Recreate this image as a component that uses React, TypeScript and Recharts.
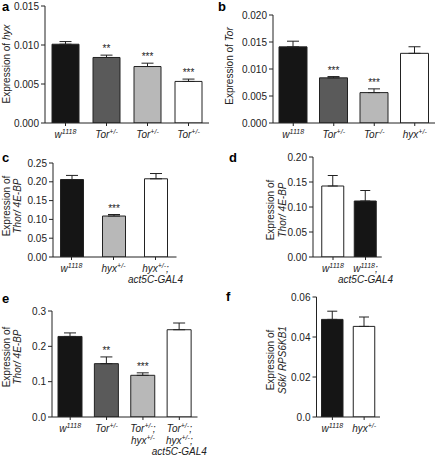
import React from 'react';
import { BarChart, Bar, XAxis, YAxis, ErrorBar, LabelList, Cell } from 'recharts';

const FONT = '"Liberation Sans", Arial, Helvetica, sans-serif';
const INK = '#222222';
const BLACK = '#151515';
const DARK = '#5a5a5a';
const LIGHT = '#b8b8b8';
const WHITE = '#ffffff';

// ---------- panel a ----------
const aCategories = ['w^{1118}', 'Tor^{+/-}', 'Tor^{+/-}', 'Tor^{+/-}'];
const aValues = [0.0101, 0.0084, 0.00724, 0.00533];
const aErrors = [0.00034, 0.0003, 0.00043, 0.0003];
const aStars = ['', '**', '***', '***'];
const aFills = [BLACK, DARK, LIGHT, WHITE];
const aTicks = [0, 0.005, 0.01, 0.015];
const aTickLabels = ['0.000', '0.005', '0.010', '0.015'];
const aYLabel = ['Expression of _hyx_'];

// ---------- panel b ----------
const bCategories = ['w^{1118}', 'Tor^{+/-}', 'Tor^{-/-}', 'hyx^{+/-}'];
const bValues = [0.0141, 0.00836, 0.00563, 0.0129];
const bErrors = [0.00105, 0.00024, 0.00069, 0.00122];
const bStars = ['', '***', '***', ''];
const bFills = [BLACK, DARK, LIGHT, WHITE];
const bTicks = [0, 0.005, 0.01, 0.015, 0.02];
const bTickLabels = ['0.000', '0.005', '0.010', '0.015', '0.020'];
const bYLabel = ['Expression of _Tor_'];

// ---------- panel c ----------
const cCategories = ['w^{1118}', 'hyx^{+/-}', 'hyx^{+/-};\nact5C-GAL4'];
const cValues = [0.206, 0.109, 0.208];
const cErrors = [0.011, 0.004, 0.014];
const cStars = ['', '***', ''];
const cFills = [BLACK, LIGHT, WHITE];
const cTicks = [0, 0.05, 0.1, 0.15, 0.2, 0.25];
const cTickLabels = ['0.00', '0.05', '0.10', '0.15', '0.20', '0.25'];
const cYLabel = ['Expression of', '_Thor/ 4E-BP_'];

// ---------- panel d ----------
const dCategories = ['w^{1118}', 'w^{1118};\nact5C-GAL4'];
const dValues = [0.142, 0.112];
const dErrors = [0.021, 0.021];
const dStars = ['', ''];
const dFills = [WHITE, BLACK];
const dTicks = [0, 0.05, 0.1, 0.15, 0.2];
const dTickLabels = ['0.00', '0.05', '0.10', '0.15', '0.20'];
const dYLabel = ['Expression of', '_Thor/ 4E-BP_'];

// ---------- panel e ----------
const eCategories = ['w^{1118}', 'Tor^{+/-}', 'Tor^{+/-};\nhyx^{+/-}', 'Tor^{+/-};\nhyx^{+/-};\nact5C-GAL4'];
const eValues = [0.228, 0.151, 0.118, 0.247];
const eErrors = [0.010, 0.019, 0.007, 0.019];
const eStars = ['', '**', '***', ''];
const eFills = [BLACK, DARK, LIGHT, WHITE];
const eTicks = [0, 0.1, 0.2, 0.3];
const eTickLabels = ['0.0', '0.1', '0.2', '0.3'];
const eYLabel = ['Expression of', '_Thor/ 4E-BP_'];

// ---------- panel f ----------
const fCategories = ['w^{1118}', 'hyx^{+/-}'];
const fValues = [0.0488, 0.0453];
const fErrors = [0.0041, 0.0047];
const fStars = ['', ''];
const fFills = [BLACK, WHITE];
const fTicks = [0, 0.02, 0.04, 0.06];
const fTickLabels = ['0.0', '0.02', '0.04', '0.06'];
const fYLabel = ['Expression of', '_S6k/ RPS6KB1_'];

function supParts(s: string, supSize: number) {
  const parts: { t: string; sup: boolean }[] = [];
  const re = /\^\{([^}]*)\}/g;
  let last = 0;
  let m: RegExpExecArray | null;
  while ((m = re.exec(s))) {
    if (m.index > last) parts.push({ t: s.slice(last, m.index), sup: false });
    parts.push({ t: m[1], sup: true });
    last = re.lastIndex;
  }
  if (last < s.length) parts.push({ t: s.slice(last), sup: false });
  let cur = 0;
  return parts.map((p, i) => {
    const target = p.sup ? -4 : 0;
    const dy = target - cur;
    cur = target;
    return (
      <tspan key={i} dy={dy} fontSize={p.sup ? supSize : undefined}>
        {p.t}
      </tspan>
    );
  });
}

function italicParts(s: string) {
  return s.split('_').map((t, i) => (
    <tspan key={i} fontStyle={i % 2 === 1 ? 'italic' : 'normal'}>
      {t}
    </tspan>
  ));
}

const XTick = (props: any) => {
  const { x, y, payload, labels, lineGap } = props;
  const idx = typeof payload?.index === 'number' ? payload.index : Number(payload?.value);
  const label: string = labels[idx] ?? '';
  const lines = label.split('\n');
  return (
    <g>
      {lines.map((ln, i) => (
        <text
          key={i}
          x={x}
          y={y + 10 + i * lineGap}
          textAnchor="middle"
          fontSize={10}
          fontStyle="italic"
          fill={INK}
          fontFamily={FONT}
        >
          {supParts(ln, 7)}
        </text>
      ))}
    </g>
  );
};

const Star = (props: any) => {
  const { values, errors } = props;
  const vb = props.viewBox && typeof props.viewBox.width === 'number' ? props.viewBox : props;
  const i = props.index;
  const s = props.value;
  if (!s || typeof i !== 'number') return null;
  const pxPerUnit = vb.height / values[i];
  const yTop = vb.y - errors[i] * pxPerUnit;
  return (
    <text x={vb.x + vb.width / 2} y={yTop - 3} textAnchor="middle" fontSize={10} fill={INK} fontFamily={FONT}>
      {s}
    </text>
  );
};

type Layout = {
  left: number; top: number; width: number; height: number;
  yw: number; mt: number; mr: number; xh: number; padL: number;
  barSize: number; capW: number; lineGap: number;
  letter: string; letterX: number; letterY: number;
  ylX: number[]; ylY: number;
};

function Panel(props: {
  layout: Layout; categories: string[]; values: number[]; errors: number[]; stars: string[];
  fills: string[]; ticks: number[]; tickLabels: string[]; yLabel: string[];
}) {
  const { layout: L, categories, values, errors, stars, fills, ticks, tickLabels, yLabel } = props;
  const data = values.map((v, i) => ({ value: v, err: [0, errors[i]], star: stars[i] }));
  const max = ticks[ticks.length - 1];
  const labelContent = () => (
    <g>
      <text x={L.letterX} y={L.letterY} fontSize={13} fontWeight="bold" fill="#000" fontFamily={FONT}>
        {L.letter}
      </text>
      {yLabel.map((ln, i) => (
        <text
          key={i}
          transform={`translate(${L.ylX[i]},${L.ylY}) rotate(-90)`}
          textAnchor="middle"
          fontSize={10}
          fill={INK}
          fontFamily={FONT}
        >
          {italicParts(ln)}
        </text>
      ))}
    </g>
  );
  return (
    <div style={{ position: 'absolute', left: L.left, top: L.top }}>
      <BarChart
        width={L.width}
        height={L.height}
        data={data}
        margin={{ top: L.mt, right: L.mr, bottom: 0, left: 0 }}
      >
        <XAxis
          type="category"
          height={L.xh}
          padding={{ left: L.padL, right: 0 }}
          tickSize={3}
          tickMargin={2}
          interval={0}
          axisLine={{ stroke: INK }}
          tickLine={{ stroke: INK }}
          tick={(p: any) => <XTick {...p} labels={categories} lineGap={L.lineGap} />}
        />
        <YAxis
          type="number"
          domain={[0, max]}
          ticks={ticks}
          width={L.yw}
          tickSize={4}
          tickMargin={2}
          interval={0}
          allowDataOverflow
          axisLine={{ stroke: INK }}
          tickLine={{ stroke: INK }}
          tick={{ fontSize: 10, fill: INK, fontFamily: FONT }}
          tickFormatter={(v: number) => {
            const k = ticks.findIndex((t) => Math.abs(t - v) < 1e-9);
            return k >= 0 ? tickLabels[k] : String(v);
          }}
          label={labelContent}
        />
        <Bar dataKey="value" barSize={L.barSize} stroke={INK} strokeWidth={1} isAnimationActive={false}>
          {data.map((_, i) => (
            <Cell key={i} fill={fills[i]} />
          ))}
          <ErrorBar dataKey="err" width={L.capW} stroke={INK} strokeWidth={1} direction="y" isAnimationActive={false} />
          <LabelList dataKey="star" content={(p: any) => <Star {...p} values={values} errors={errors} />} />
        </Bar>
      </BarChart>
    </div>
  );
}

const layoutA: Layout = { left: 0, top: 0, width: 215, height: 140, yw: 45, mt: 6, mr: 6, xh: 17, padL: 0, barSize: 27, capW: 6, lineGap: 11, letter: 'a', letterX: 2, letterY: 11, ylX: [10], ylY: 64 };
const layoutB: Layout = { left: 215, top: 0, width: 220, height: 140, yw: 58, mt: 15, mr: 0, xh: 17, padL: 0, barSize: 28, capW: 6, lineGap: 11, letter: 'b', letterX: 3, letterY: 11, ylX: [18], ylY: 66 };
const layoutC: Layout = { left: 0, top: 140, width: 215, height: 150, yw: 53, mt: 23, mr: 38.5, xh: 33, padL: -2.5, barSize: 23, capW: 6, lineGap: 11, letter: 'c', letterX: 2, letterY: 22, ylX: [10, 21], ylY: 66 };
const layoutD: Layout = { left: 215, top: 140, width: 220, height: 150, yw: 98, mt: 17, mr: 53.25, xh: 33, padL: 3.75, barSize: 22, capW: 5, lineGap: 11, letter: 'd', letterX: 14, letterY: 22, ylX: [59, 71], ylY: 70 };
const layoutE: Layout = { left: 0, top: 290, width: 215, height: 167, yw: 52, mt: 21, mr: 17.5, xh: 40, padL: 0, barSize: 24, capW: 6, lineGap: 11.5, letter: 'e', letterX: 2, letterY: 13, ylX: [10, 21], ylY: 67 };
const layoutF: Layout = { left: 215, top: 290, width: 220, height: 167, yw: 101.5, mt: 7, mr: 55, xh: 40, padL: 0, barSize: 21.5, capW: 5, lineGap: 11.5, letter: 'f', letterX: 11, letterY: 11, ylX: [59, 71], ylY: 70 };

export default function App() {
  return (
    <div style={{ position: 'absolute', left: 0, top: 0, width: 435, height: 457, background: '#fff', fontFamily: FONT }}>
      <Panel layout={layoutA} categories={aCategories} values={aValues} errors={aErrors} stars={aStars} fills={aFills} ticks={aTicks} tickLabels={aTickLabels} yLabel={aYLabel} />
      <Panel layout={layoutB} categories={bCategories} values={bValues} errors={bErrors} stars={bStars} fills={bFills} ticks={bTicks} tickLabels={bTickLabels} yLabel={bYLabel} />
      <Panel layout={layoutC} categories={cCategories} values={cValues} errors={cErrors} stars={cStars} fills={cFills} ticks={cTicks} tickLabels={cTickLabels} yLabel={cYLabel} />
      <Panel layout={layoutD} categories={dCategories} values={dValues} errors={dErrors} stars={dStars} fills={dFills} ticks={dTicks} tickLabels={dTickLabels} yLabel={dYLabel} />
      <Panel layout={layoutE} categories={eCategories} values={eValues} errors={eErrors} stars={eStars} fills={eFills} ticks={eTicks} tickLabels={eTickLabels} yLabel={eYLabel} />
      <Panel layout={layoutF} categories={fCategories} values={fValues} errors={fErrors} stars={fStars} fills={fFills} ticks={fTicks} tickLabels={fTickLabels} yLabel={fYLabel} />
    </div>
  );
}
